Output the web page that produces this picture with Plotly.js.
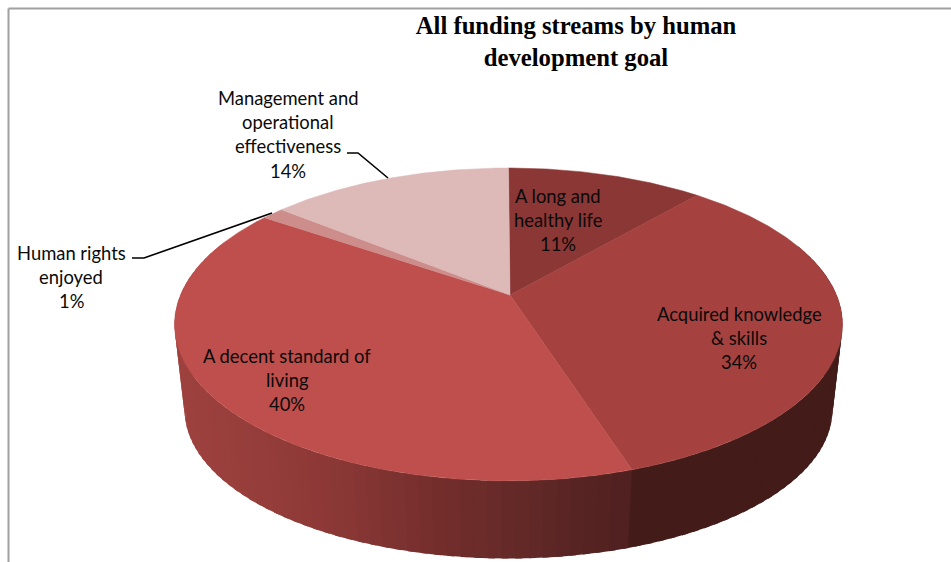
<!DOCTYPE html>
<html>
<head>
<meta charset="utf-8">
<script src="https://cdn.plot.ly/plotly-3.0.1.min.js"></script>
<style>html,body{margin:0;padding:0;background:#fff}#chart{width:951px;height:562px}</style>
</head>
<body>
<div id="chart"></div>
<script>
// ---- data (slice sizes estimated from the drawn angles; labels are the printed rounded percentages)
const categories = ["A long and healthy life", "Acquired knowledge & skills", "A decent standard of living", "Human rights enjoyed", "Management and operational effectiveness"];
const shares = [11.4, 33.6, 39.6, 1.3, 14.1];
const chartTitle = "All funding streams by human<br>development goal";

// ---- label text, one entry per printed line
const labelLines = [
  ["A long and", "healthy life", "11%"],
  ["Acquired knowledge", "& skills", "34%"],
  ["A decent standard of", "living", "40%"],
  ["Human rights", "enjoyed", "1%"],
  ["Management and", "operational", "effectiveness", "14%"]
];

// ---- style
const topColors = ["#8B3735", "#A5423F", "#BE4F4C", "#CD8D8B", "#DDB9B8"];
const labelCentre = [[558, 196], [739, 314], [287, 356], [71, 253], [288, 98]];
const wallStopsX = [184, 280, 350, 440, 520, 633];
const wallStopsRGB = [[157,65,62],[147,60,57],[137,55,53],[116,46,44],[100,42,40],[79,32,31]];
const wallFlatRGB = [67, 28, 25];
const leaders = [
  {x: [347, 358, 388], y: [153, 153, 178]},
  {x: [132, 144, 272], y: [258, 258, 213]}
];
const apex = {x: 510, y: 295}, persp = {cx: 508.5, a: 150.9, k: 0.188, b: 328};
const foot = {cx: 508.5, cyTop: 324.5, cyBottom: 410, sx: 0.97, sy: 0.95};

// ---- perspective projection of the pie disc
function topPoint(deg) {
  const r = deg * Math.PI / 180, X = Math.sin(r), Y = Math.cos(r), w = 1 + persp.k * Y;
  return [persp.cx + persp.b * X / w, apex.y - persp.a * Y / w];
}
function bottomPoint(deg) {
  const p = topPoint(deg);
  return [foot.cx + foot.sx * (p[0] - foot.cx), foot.cyBottom + foot.sy * (p[1] - foot.cyTop)];
}
function wallColor(i, x) {
  if (i === 1) return "rgb(" + wallFlatRGB.join(",") + ")";
  let j = 0;
  while (j < wallStopsX.length - 2 && x > wallStopsX[j + 1]) j++;
  const t = Math.max(0, Math.min(1, (x - wallStopsX[j]) / (wallStopsX[j + 1] - wallStopsX[j])));
  const c = wallStopsRGB[j].map((v, n) => Math.round(v + t * (wallStopsRGB[j + 1][n] - v)));
  return "rgb(" + c.join(",") + ")";
}

const total = shares.reduce((a, b) => a + b, 0);
const traces = [];
let acc = 0;
const ranges = shares.map(v => { const s = acc; acc += v; return [s / total * 360, acc / total * 360]; });

// side wall, drawn in overlapping narrow bands so no seams show
ranges.forEach((rg, i) => {
  const from = Math.max(rg[0], 70), to = Math.min(rg[1], 290);
  if (to <= from) return;
  const step = 2;
  for (let d = to - step; d > from - step; d -= step) {
    const s = Math.max(d, from), e = Math.min(d + step + 1, to + 0.8), n = 6;
    const col = wallColor(i, topPoint((s + Math.min(d + step, to)) / 2)[0]);
    const xs = [], ys = [];
    for (let k = 0; k <= n; k++) { const p = topPoint(s + (e - s) * k / n); xs.push(p[0]); ys.push(p[1]); }
    for (let k = n; k >= 0; k--) { const p = bottomPoint(s + (e - s) * k / n); xs.push(p[0]); ys.push(p[1]); }
    xs.push(xs[0]); ys.push(ys[0]);
    traces.push({type: "scatter", mode: "lines", x: xs, y: ys, fill: "toself", fillcolor: col,
      line: {width: 0}, hoverinfo: "skip", showlegend: false});
  }
});
// top faces
ranges.forEach((rg, i) => {
  const xs = [apex.x], ys = [apex.y];
  for (let d = rg[0]; d < rg[1]; d += 0.5) { const p = topPoint(d); xs.push(p[0]); ys.push(p[1]); }
  const q = topPoint(rg[1]); xs.push(q[0], apex.x); ys.push(q[1], apex.y);
  traces.push({type: "scatter", mode: "lines", name: categories[i], x: xs, y: ys, fill: "toself",
    fillcolor: topColors[i], line: {color: topColors[i], width: 0.5}, hoverinfo: "skip", showlegend: false});
});
// leader lines
leaders.forEach(l => traces.push({type: "scatter", mode: "lines", x: l.x, y: l.y,
  line: {color: "#000", width: 1.6}, hoverinfo: "skip", showlegend: false}));

const annotations = [];
labelLines.forEach((lines, i) => lines.forEach((t, n) => annotations.push({
  x: labelCentre[i][0], y: labelCentre[i][1] + n * 24.2, xref: "x", yref: "y", text: t, showarrow: false,
  xanchor: "center", yanchor: "middle", font: {family: "Lato, 'Open Sans', sans-serif", size: 18.4, color: "#0a0a0a"}
})));

const layout = {
  width: 951, height: 562, margin: {l: 0, r: 0, t: 0, b: 0},
  paper_bgcolor: "#fff", plot_bgcolor: "#fff", showlegend: false,
  title: {text: chartTitle, x: 576 / 951, xanchor: "center", y: 1 - 34 / 562, yanchor: "top", pad: {t: 0},
    font: {family: "'Liberation Serif', serif", size: 24.7, color: "#000", weight: 700}},
  xaxis: {range: [0, 951], visible: false, fixedrange: true},
  yaxis: {range: [562, 0], visible: false, fixedrange: true},
  annotations: annotations,
  shapes: [
    {type: "line", xref: "x", yref: "y", x0: 8.5, x1: 8.5, y0: 8.5, y1: 562, line: {color: "#A0A0A0", width: 2}},
    {type: "line", xref: "x", yref: "y", x0: 8.5, x1: 951, y0: 8.5, y1: 8.5, line: {color: "#A0A0A0", width: 2}}
  ]
};
Plotly.newPlot("chart", traces, layout, {displayModeBar: false, staticPlot: true});
</script>
</body>
</html>
